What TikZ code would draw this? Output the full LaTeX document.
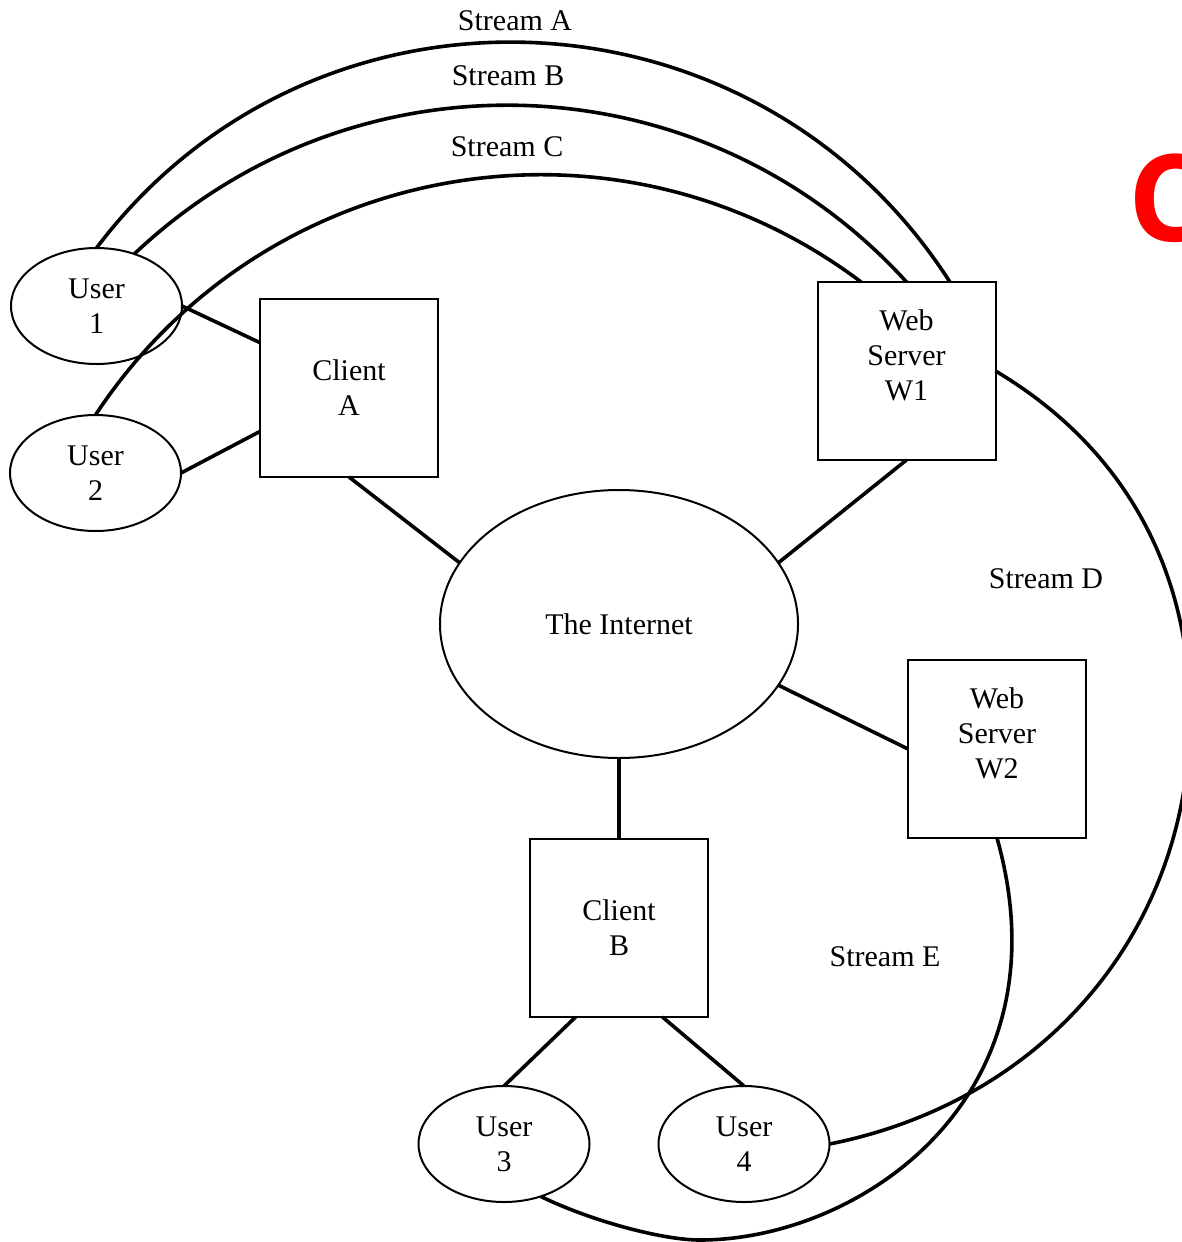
\documentclass[tikz,border=0pt]{standalone}
\usepackage{fontspec}
\setmainfont{Liberation Serif}
\newfontfamily\markfont{Open Sans}
\usetikzlibrary{shapes.geometric}
\tikzset{
  x=1pt, y=-1pt,
  every node/.style={font=\fontsize{30}{35}\selectfont},
  host/.style={draw, ellipse, line width=2pt, inner sep=0pt, outer sep=0pt,
               minimum width=171pt, minimum height=116pt, align=center},
  box/.style={draw, rectangle, line width=2pt, inner sep=0pt, outer sep=0pt,
              minimum width=178pt, minimum height=178pt, align=center},
  cloud/.style={draw, ellipse, line width=2pt, inner sep=0pt, outer sep=0pt,
                minimum width=358pt, minimum height=268pt},
  link/.style={line width=3.6pt},
  stream/.style={line width=3.6pt},
  tag/.style={inner sep=0pt},
}
\begin{document}
\begin{tikzpicture}
\useasboundingbox (0,0) rectangle (1182,1242);
\clip (0,0) rectangle (1182,1242);
\fill[white] (0,0) rectangle (1182,1242);

% hosts and machines
\node[host] (u1) at (96.5,306) {User\\1};
\node[host] (u2) at (95.5,473) {User\\2};
\node[host] (u3) at (504,1144) {User\\3};
\node[host] (u4) at (744,1144) {User\\4};
\node[box] (ca) at (349,388) {Client\\A};
\node[box] (cb) at (619,928) {Client\\B};
\node[box, label={[align=center, yshift=16pt]center:{Web\\Server\\W1}}] (w1) at (906.5,371) {};
\node[box, label={[align=center, yshift=16pt]center:{Web\\Server\\W2}}] (w2) at (997,749) {};
\node[cloud] (inet) at (619,624) {The Internet};

% physical links
\draw[link] (u1.east) -- (ca.153);
\draw[link] (u2.east) -- (ca.206);
\draw[link] (ca.south) -- (inet.159);
\draw[link] (w1.south) -- (inet.21);
\draw[link] (inet.339) -- (w2.west);
\draw[link] (inet.south) -- (cb.north);
\draw[link] (cb.244) -- (u3.north);
\draw[link] (cb.296) -- (u4.north);

% streams
\draw[stream] (u1.north) .. controls (314,-40.5) and (754.5,-22.8) .. (w1.64);
\draw[stream] (u1.54) .. controls (355.2,44.9) and (703.1,57.9) .. (w1.north);
\draw[stream] (u2.north) .. controls (264.9,157.5) and (615.3,97) .. (w1.117);
\draw[stream] (w1.east) .. controls (1121.8,446) and (1190,566.8) .. (1190,715)
   .. controls (1190,929.2) and (1046,1100.8) .. (u4.east);
\draw[stream] (w2.south) .. controls (1069.9,1097.2) and (860,1240) .. (700,1240)
   .. controls (661.3,1240) and (589.3,1220.2) .. (u3.305);

% stream labels
\node[tag] (la) at (515,21) {Stream A};
\node[tag] (lb) at (508,76) {Stream B};
\node[tag] (lc) at (507,147) {Stream C};
\node[tag] (ld) at (1046,579) {Stream D};
\node[tag] (le) at (885,957) {Stream E};

% corner mark
\node[anchor=base west, inner sep=0pt, text=red,
      font=\markfont\bfseries\fontsize{121}{121}\selectfont] (mark) at (1128,241) {C};
\end{tikzpicture}
\end{document}
